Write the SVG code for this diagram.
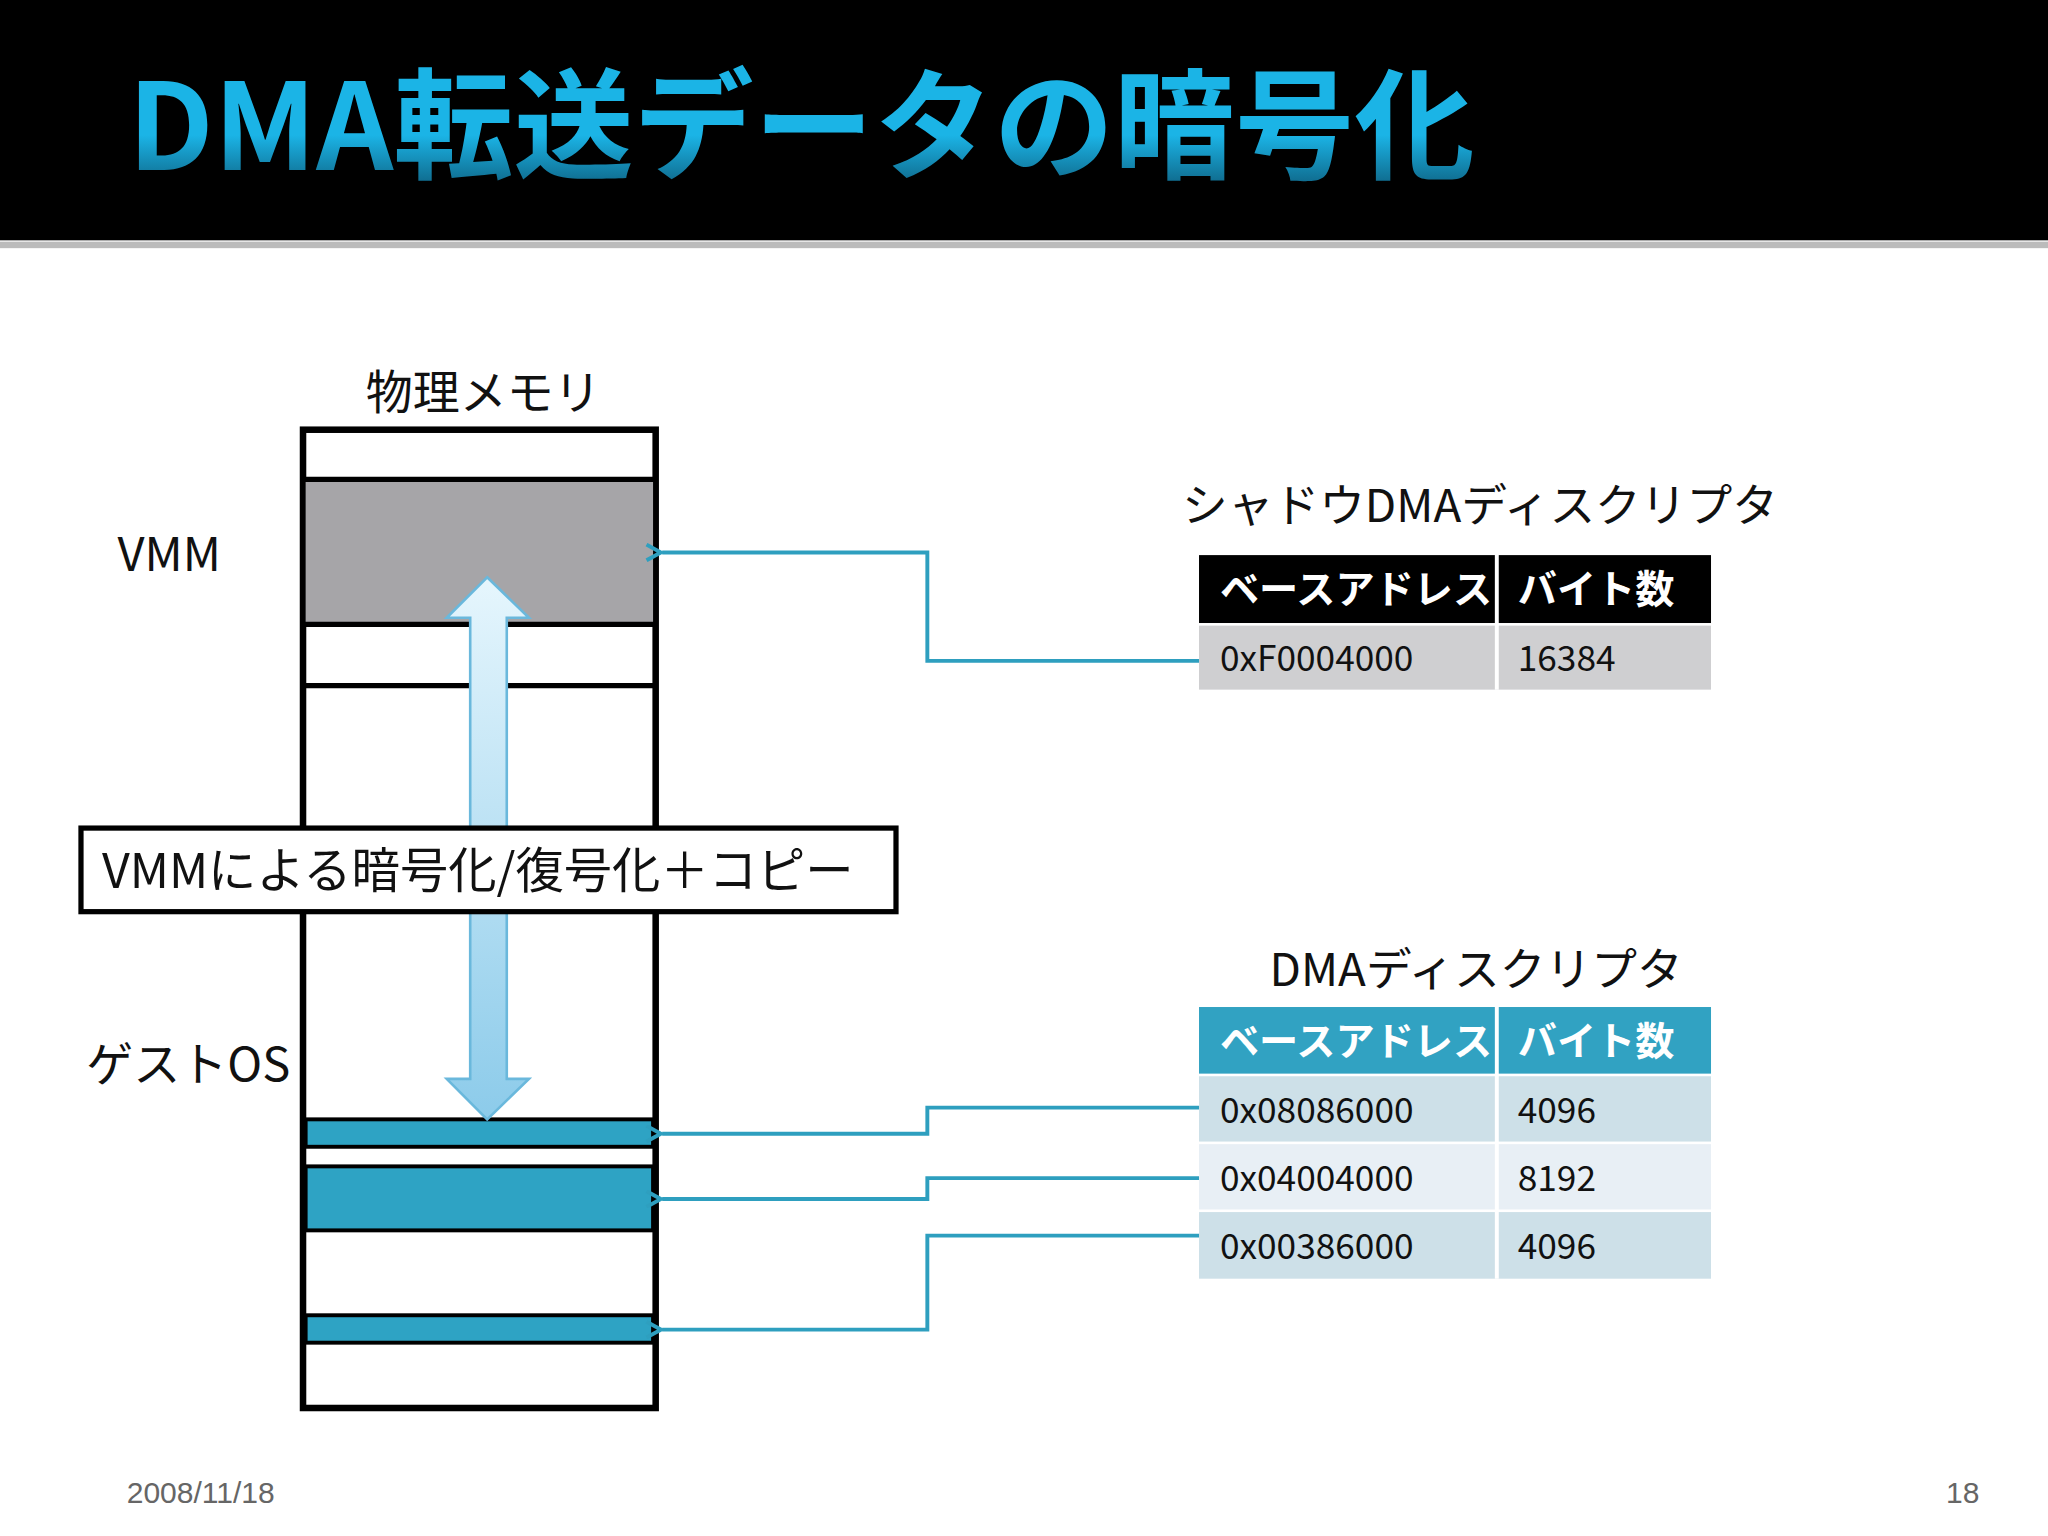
<svg xmlns="http://www.w3.org/2000/svg" width="2048" height="1536" viewBox="0 0 2048 1536">
<defs>
<style>
.t{font-family:"Noto Sans CJK JP","Liberation Sans",sans-serif;fill:#111}
.c{fill:none;stroke:#2e9fbf;stroke-width:3;marker-end:url(#ah)}
.w{font-family:"Noto Sans CJK JP","Liberation Sans",sans-serif;fill:#fff;font-weight:bold;font-size:30px}
.d{font-family:"Noto Sans CJK JP","Liberation Sans",sans-serif;fill:#111;font-size:27px}
</style>
<marker id="ah" markerWidth="14" markerHeight="14" refX="1" refY="7" orient="auto" markerUnits="userSpaceOnUse"><path d="M13,1 L2,7 L13,13" fill="none" stroke="#2e9fbf" stroke-width="3"/></marker>
<linearGradient id="ag" x1="0" y1="0" x2="0" y2="1"><stop offset="0" stop-color="#e6f6fd"/><stop offset="1" stop-color="#8ccbea"/></linearGradient>
<linearGradient id="tg" x1="0" y1="0" x2="0" y2="1"><stop offset="0.6" stop-color="#1bb4e6"/><stop offset="1" stop-color="#0a4a66"/></linearGradient>
</defs>
<g transform="scale(1.30612)">
<rect width="1568" height="1176" fill="#fff"/>
<g id="title"><rect x="0" y="0" width="1568" height="184" fill="#000"/><rect x="0" y="185" width="1568" height="5" fill="#bbb"/>
<text x="98" y="130" font-family="Noto Sans CJK JP,Liberation Sans,sans-serif" font-size="92" font-weight="bold" fill="url(#tg)">DMA転送データの暗号化</text></g>
<g id="memory">
<rect x="232" y="329" width="270" height="749" fill="#fff" stroke="#000" stroke-width="5"/>
<rect x="234" y="368" width="266" height="109" fill="#a6a5a8"/>
<line x1="232" y1="367" x2="502" y2="367" stroke="#000" stroke-width="4"/>
<line x1="232" y1="478" x2="502" y2="478" stroke="#000" stroke-width="4"/>
<line x1="232" y1="525" x2="502" y2="525" stroke="#000" stroke-width="4"/>
<rect x="234" y="857" width="266" height="21" fill="#2ea3c4" stroke="#000" stroke-width="3"/>
<rect x="234" y="893" width="266" height="49" fill="#2ea3c4" stroke="#000" stroke-width="3"/>
<rect x="234" y="1007" width="266" height="21" fill="#2ea3c4" stroke="#000" stroke-width="3"/>
<text class="t" x="370" y="313" font-size="36" text-anchor="middle">物理メモリ</text>
</g>
<text class="t" x="90" y="437" font-size="36">VMM</text>
<text class="t" x="66" y="828" font-size="36">ゲストOS</text>
<g id="arrow"><path d="M373,442 L405,473 L388,473 L388,826 L405,826 L373,857 L342,826 L360,826 L360,473 L342,473 Z" fill="url(#ag)" stroke="#6ab8dc" stroke-width="2"/></g>
<g id="label"><rect x="62" y="634" width="624" height="64" fill="#fff" stroke="#000" stroke-width="4"/><text class="t" x="78" y="680" font-size="37">VMMによる暗号化/復号化＋コピー</text></g>
<g id="shadow">
<text class="t" x="905" y="400" font-size="35">シャドウDMAディスクリプタ</text>
<rect x="918" y="425" width="392" height="52" fill="#000"/>
<rect x="918" y="479" width="392" height="49" fill="#cfcfd1"/>
<line x1="1146" y1="425" x2="1146" y2="528" stroke="#fff" stroke-width="3"/>
<text class="w" x="934" y="462">ベースアドレス</text><text class="w" x="1162" y="462">バイト数</text>
<text class="d" x="934" y="514">0xF0004000</text><text class="d" x="1162" y="514">16384</text>
</g>
<g id="dma">
<text class="t" x="972" y="755" font-size="35">DMAディスクリプタ</text>
<rect x="918" y="771" width="392" height="51" fill="#31a2c2"/>
<rect x="918" y="824" width="392" height="50" fill="#cde0e8"/>
<rect x="918" y="876" width="392" height="50" fill="#e8eff5"/>
<rect x="918" y="928" width="392" height="51" fill="#cde0e8"/>
<line x1="1146" y1="771" x2="1146" y2="979" stroke="#fff" stroke-width="3"/>
<text class="w" x="934" y="808">ベースアドレス</text><text class="w" x="1162" y="808">バイト数</text>
<text class="d" x="934" y="860">0x08086000</text><text class="d" x="1162" y="860">4096</text>
<text class="d" x="934" y="912">0x04004000</text><text class="d" x="1162" y="912">8192</text>
<text class="d" x="934" y="964">0x00386000</text><text class="d" x="1162" y="964">4096</text>
</g>
<g id="connectors">
<path class="c" d="M918,506 H710 V423 H507"/>
<path class="c" d="M918,848 H710 V868 H507"/>
<path class="c" d="M918,902 H710 V918 H507"/>
<path class="c" d="M918,946 H710 V1018 H507"/>
</g>
<text x="97" y="1151" font-family="Liberation Sans,sans-serif" font-size="23" fill="#666">2008/11/18</text>
<text x="1490" y="1151" font-family="Liberation Sans,sans-serif" font-size="23" fill="#666">18</text>
</g>
</svg>
